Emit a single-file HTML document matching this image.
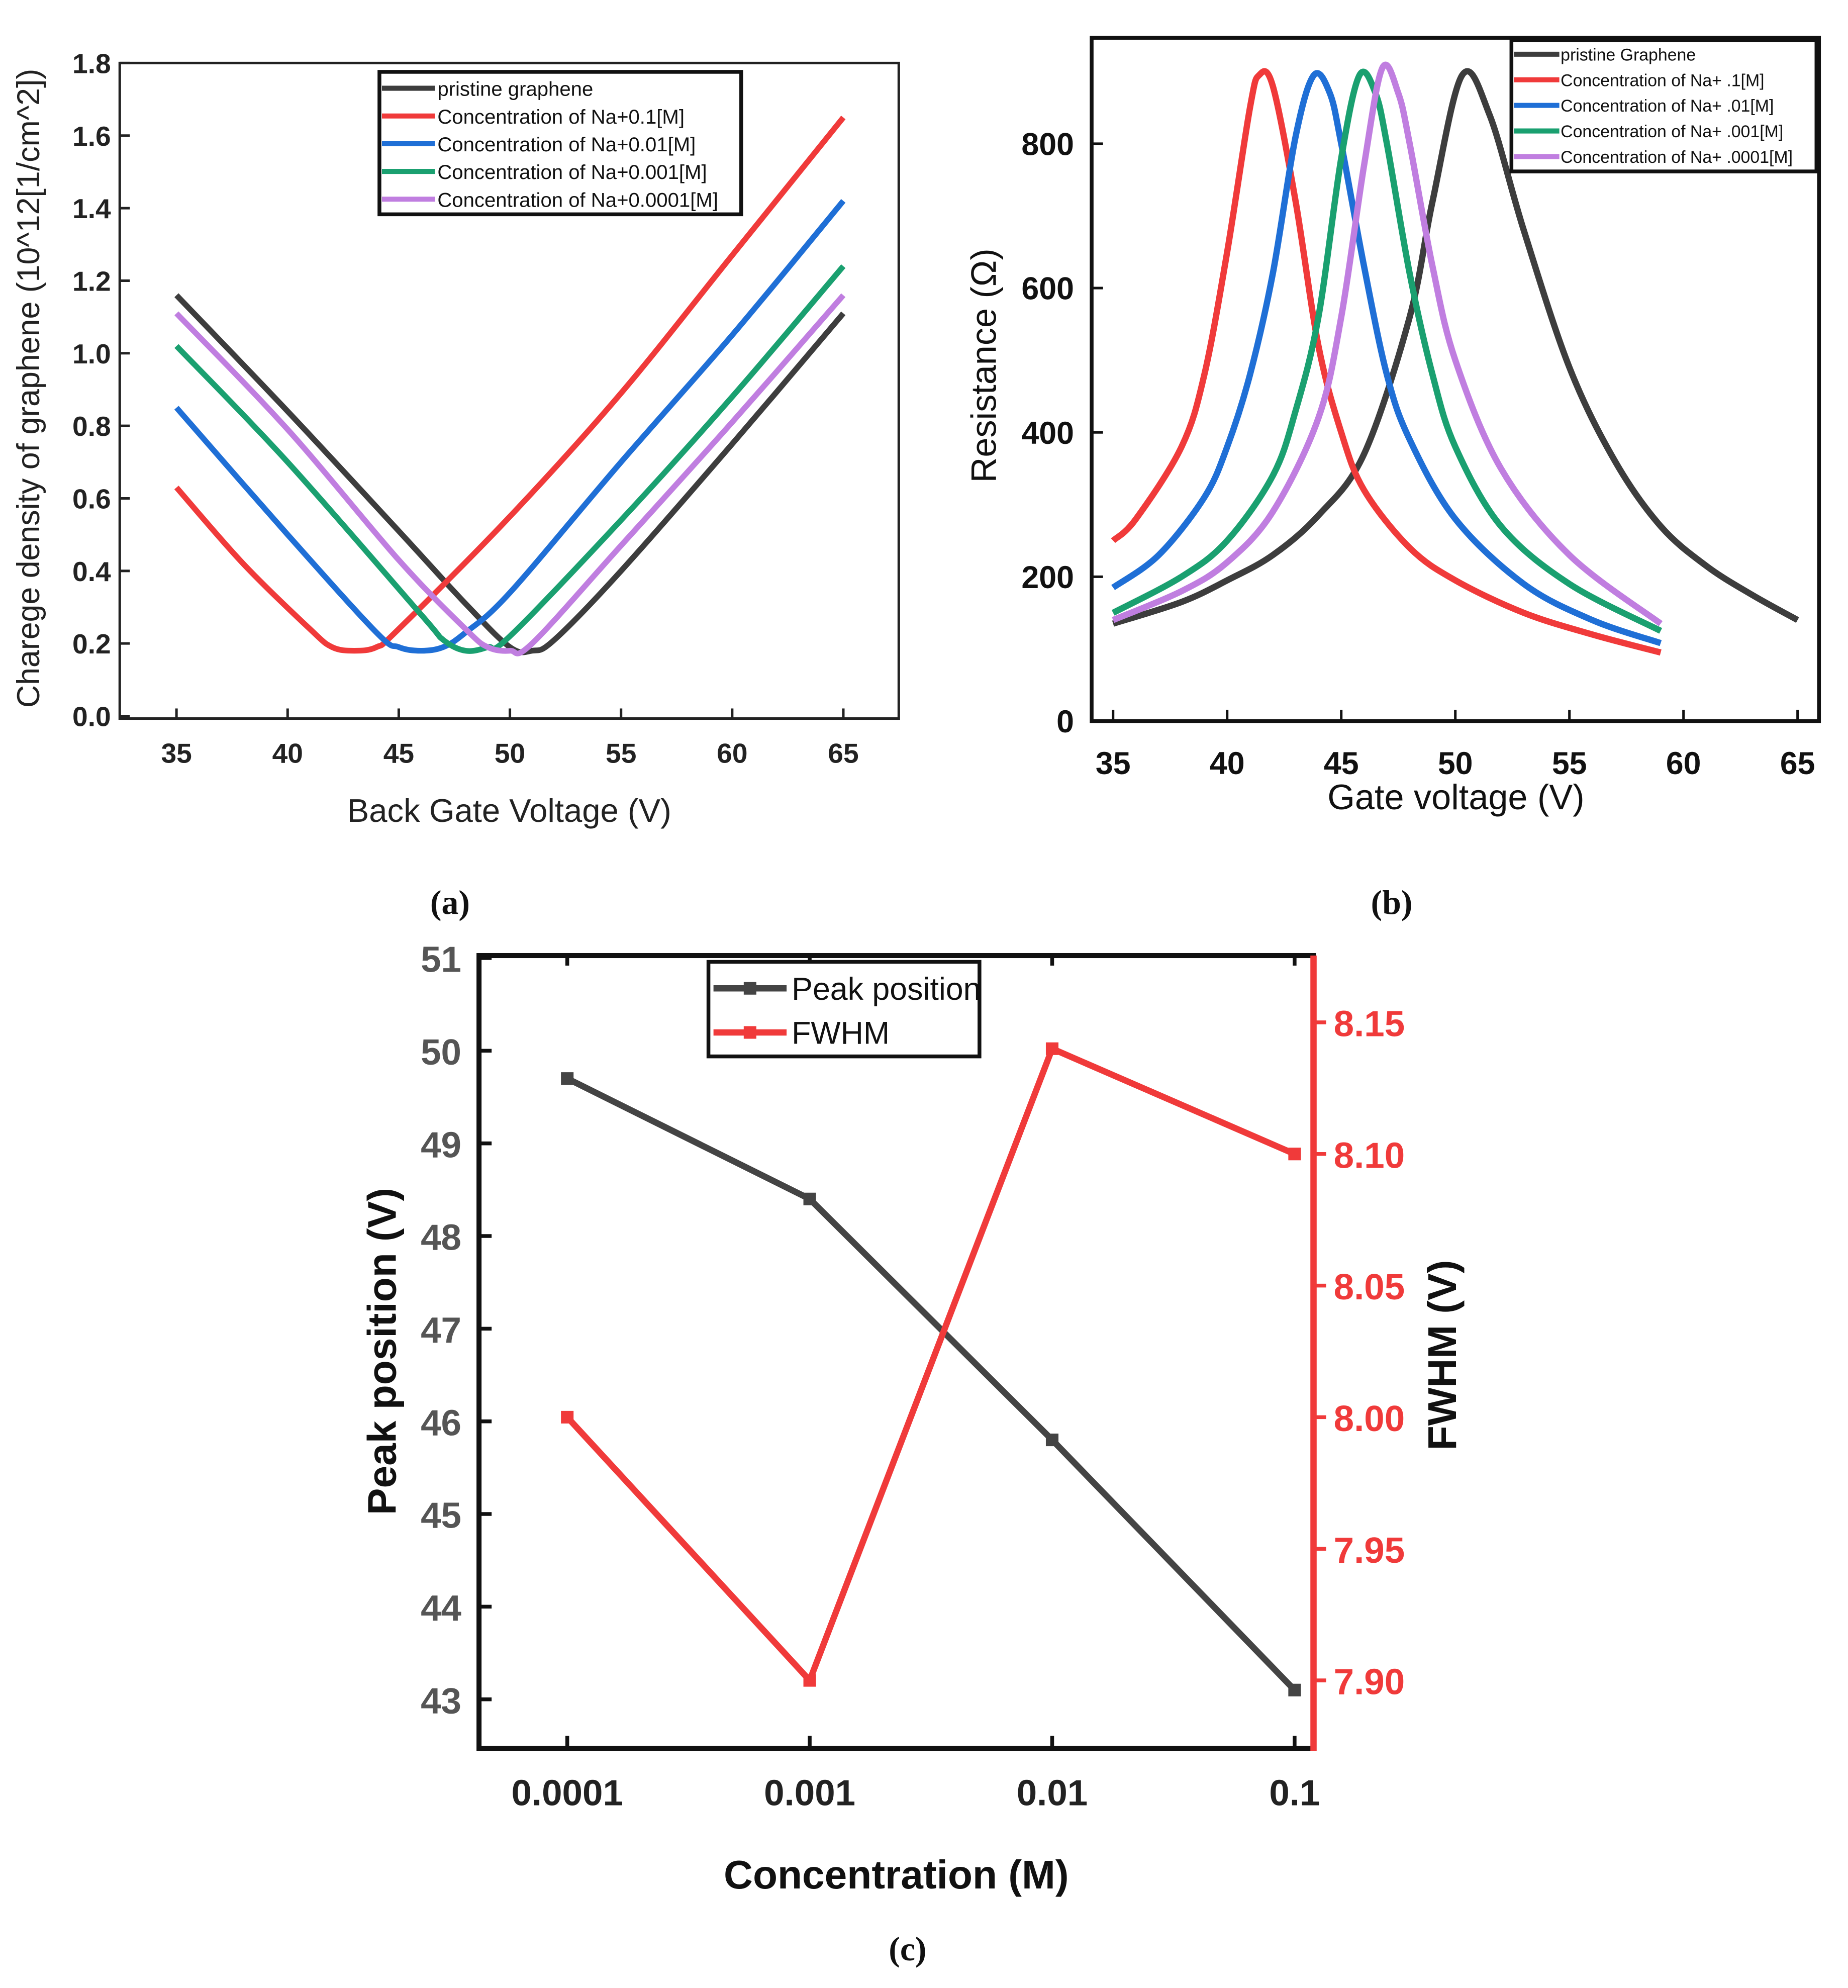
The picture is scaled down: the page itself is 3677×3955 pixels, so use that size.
<!DOCTYPE html>
<html><head><meta charset="utf-8"><style>
html,body{margin:0;padding:0;background:#fff;}
svg{display:block;font-family:"Liberation Sans",sans-serif;}
</style></head><body>
<svg id="fig" width="3677" height="3955" viewBox="0 0 1466 1577" preserveAspectRatio="none" xmlns="http://www.w3.org/2000/svg"></svg>
<script>
// ---- Panel (a) data ----
const aBlackX=[35,40,45,48,50,51,52,55,60,65];
const aBlackY=[1.16,0.84,0.51,0.31,0.19,0.18,0.21,0.40,0.75,1.11];
const aRedX=[35,38,41,42,43,44,45,50,55,60,65];
const aRedY=[0.63,0.42,0.24,0.19,0.18,0.19,0.24,0.55,0.89,1.27,1.65];
const aBlueX=[35,40,44,45,46,47,48,50,55,60,65];
const aBlueY=[0.85,0.50,0.23,0.19,0.18,0.19,0.23,0.34,0.70,1.05,1.42];
const aGreenX=[35,40,46,47,48,49,50,55,60,65];
const aGreenY=[1.02,0.70,0.28,0.21,0.18,0.19,0.22,0.54,0.88,1.24];
const aPurpleX=[35,40,45,48,49,50,51,55,60,65];
const aPurpleY=[1.11,0.79,0.43,0.24,0.19,0.18,0.20,0.47,0.81,1.16];
const aXTicks=[35,40,45,50,55,60,65];
const aYTicks=["0.0","0.2","0.4","0.6","0.8","1.0","1.2","1.4","1.6","1.8"];
const aLegend=["pristine graphene","Concentration of Na+0.1[M]","Concentration of Na+0.01[M]","Concentration of Na+0.001[M]","Concentration of Na+0.0001[M]"];
// ---- Panel (b) data ----
const bBlackX=[35,38,40,42,44,46,48,49,50.3,51.5,53,55,57,59,61,63,65];
const bBlackY=[135,165,195,230,285,370,560,720,895,840,680,490,360,270,215,175,140];
const bRedX=[35,36,38,39,40,41,41.4,42,43,44,45,46,48,50,53,56,59];
const bRedY=[250,280,380,480,650,850,895,880,720,520,400,320,240,195,150,120,95];
const bBlueX=[35,37,39,40,41,42,43,43.8,44.5,45,46,47,48,50,53,56,59];
const bBlueY=[185,230,310,380,480,620,810,895,870,800,630,480,390,280,190,140,108];
const bGreenX=[35,38,40,42,43,44,45,45.8,46.5,47,48,49,50,52,55,59];
const bGreenY=[150,200,250,340,430,560,780,895,870,800,620,480,380,270,190,125];
const bPurpleX=[35,38,40,42,44,45,46,46.8,47.5,48,49,50,52,55,59];
const bPurpleY=[140,180,220,290,420,560,770,905,870,800,630,500,350,230,135];
const bXTicks=[35,40,45,50,55,60,65];
const bYTicks=[0,200,400,600,800];
const bLegend=["pristine Graphene","Concentration of Na+ .1[M]","Concentration of Na+  .01[M]","Concentration of Na+  .001[M]","Concentration of Na+  .0001[M]"];
// ---- Panel (c) data ----
const cCategories=["0.0001","0.001","0.01","0.1"];
const cPeak=[49.7,48.4,45.8,43.1];
const cFwhm=[8.00,7.90,8.14,8.10];
const cLeftTicks=[43,44,45,46,47,48,49,50,51];
const cRightTicks=["7.90","7.95","8.00","8.05","8.10","8.15"];

const NS="http://www.w3.org/2000/svg";
const svg=document.getElementById('fig');
function el(tag,attrs,parent,text){const e=document.createElementNS(NS,tag);for(const k in attrs)e.setAttribute(k,attrs[k]);if(text!==undefined)e.textContent=text;(parent||svg).appendChild(e);return e;}
const colors=["#3d3d3d","#f03a3a","#1f6fd6","#1aa070","#c07ee0"];
function smoothPath(pts){let d="M"+pts[0][0]+","+pts[0][1];for(let i=0;i<pts.length-1;i++){const p0=pts[i-1]||pts[i],p1=pts[i],p2=pts[i+1],p3=pts[i+2]||p2;const c1x=p1[0]+(p2[0]-p0[0])/6,c1y=p1[1]+(p2[1]-p0[1])/6,c2x=p2[0]-(p3[0]-p1[0])/6,c2y=p2[1]-(p3[1]-p1[1])/6;d+=` C${c1x},${c1y} ${c2x},${c2y} ${p2[0]},${p2[1]}`;}return d;}

// ===== Panel (a) =====
const ga=el('g',{});
const ax=v=>140+(v-35)*(669-140)/30, ay=v=>568-v*(568-50)/1.8;
let r=el('rect',{x:95,y:50,width:618,height:520,fill:'none',stroke:'#222','stroke-width':2},ga);
aXTicks.forEach(t=>{el('line',{x1:ax(t),x2:ax(t),y1:570,y2:562,stroke:'#222','stroke-width':2},ga);
 const tx=el('text',{x:ax(t),y:605,'font-size':22,'font-weight':'bold','text-anchor':'middle',fill:'#222'},ga,t);});
aYTicks.forEach(t=>{const v=parseFloat(t);el('line',{x1:95,x2:103,y1:ay(v),y2:ay(v),stroke:'#222','stroke-width':2},ga);
 const tx=el('text',{x:88,y:ay(v)+8,'font-size':22,'font-weight':'bold','text-anchor':'end',fill:'#222'},ga,t);});
let t=el('text',{x:404,y:652,'font-size':26,'text-anchor':'middle',fill:'#222'},ga,'Back Gate Voltage (V)');
t=el('text',{x:0,y:0,'font-size':25,'text-anchor':'middle',fill:'#222',transform:'translate(31,308) rotate(-90)'},ga,'Charege density of graphene (10^12[1/cm^2])');
[[aBlackX,aBlackY],[aRedX,aRedY],[aBlueX,aBlueY],[aGreenX,aGreenY],[aPurpleX,aPurpleY]].forEach((s,i)=>{
 const p=el('path',{d:smoothPath(s[0].map((x,j)=>[ax(x),ay(s[1][j])])),fill:'none',stroke:colors[i],'stroke-width':4.5,'stroke-linejoin':'round'},ga);
 });
const la=el('g',{},ga);
el('rect',{x:301,y:57,width:287,height:113,fill:'#fff',stroke:'#111','stroke-width':3},la);
aLegend.forEach((s,i)=>{const y=70+i*22;el('line',{x1:303,x2:345,y1:y,y2:y,stroke:colors[i],'stroke-width':4},la);
 const tx=el('text',{x:347,y:y+6,'font-size':16,fill:'#111'},la,s);});
t=el('text',{x:357,y:725,'font-size':27,'font-weight':'bold','text-anchor':'middle','font-family':'Liberation Serif, serif',fill:'#111'},ga,'(a)');

// ===== Panel (b) =====
const gb=el('g',{});
const bx=v=>883+(v-35)*(1426-883)/30, by=v=>572-v*(572-114)/800;
r=el('rect',{x:866,y:30,width:577,height:542,fill:'none',stroke:'#111','stroke-width':3},gb);
bXTicks.forEach(v=>{el('line',{x1:bx(v),x2:bx(v),y1:572,y2:563,stroke:'#111','stroke-width':2},gb);
 const tx=el('text',{x:bx(v),y:614,'font-size':25,'font-weight':'bold','text-anchor':'middle',fill:'#111'},gb,v);});
bYTicks.forEach(v=>{el('line',{x1:866,x2:875,y1:by(v),y2:by(v),stroke:'#111','stroke-width':2},gb);
 const tx=el('text',{x:852,y:by(v)+9,'font-size':25,'font-weight':'bold','text-anchor':'end',fill:'#111'},gb,v);});
t=el('text',{x:1155,y:642,'font-size':28,'text-anchor':'middle',fill:'#111'},gb,'Gate voltage (V)');
t=el('text',{x:0,y:0,'font-size':28,'text-anchor':'middle',fill:'#111',transform:'translate(790,290) rotate(-90)'},gb,'Resistance (Ω)');
[[bBlackX,bBlackY],[bRedX,bRedY],[bBlueX,bBlueY],[bGreenX,bGreenY],[bPurpleX,bPurpleY]].forEach((s,i)=>{
 const p=el('path',{d:smoothPath(s[0].map((x,j)=>[bx(x),by(s[1][j])])),fill:'none',stroke:colors[i],'stroke-width':5,'stroke-linejoin':'round'},gb);
 });
const lb=el('g',{},gb);
el('rect',{x:1199,y:32,width:242,height:104,fill:'#fff',stroke:'#111','stroke-width':3},lb);
bLegend.forEach((s,i)=>{const y=43+i*20.3;el('line',{x1:1201,x2:1237,y1:y,y2:y,stroke:colors[i],'stroke-width':4},lb);
 const tx=el('text',{x:1238,y:y+5,'font-size':13.5,fill:'#111'},lb,s);});
t=el('text',{x:1104,y:725,'font-size':27,'font-weight':'bold','text-anchor':'middle','font-family':'Liberation Serif, serif',fill:'#111'},gb,'(b)');

// ===== Panel (c) =====
const gc=el('g',{});
const cx=i=>450+i*(1027-450)/(cCategories.length-1);
const cyL=v=>1348-(v-43)*(1348-760)/8, cyR=v=>1333-(v-7.90)*(1333-811)/0.25;
r=el('rect',{x:380,y:758,width:662,height:629,fill:'none',stroke:'#111','stroke-width':4},gc);
el('line',{x1:1042,x2:1042,y1:758,y2:1389,stroke:'#f03a3a','stroke-width':5},gc);
cCategories.forEach((c,i)=>{el('line',{x1:cx(i),x2:cx(i),y1:1387,y2:1377,stroke:'#111','stroke-width':3},gc);el('line',{x1:cx(i),x2:cx(i),y1:758,y2:766,stroke:'#111','stroke-width':3},gc);
 const tx=el('text',{x:cx(i),y:1432,'font-size':29,'font-weight':'bold','text-anchor':'middle',fill:'#222'},gc,c);});
cLeftTicks.forEach(v=>{el('line',{x1:380,x2:390,y1:cyL(v),y2:cyL(v),stroke:'#111','stroke-width':3},gc);
 const tx=el('text',{x:366,y:cyL(v)+11,'font-size':29,'font-weight':'bold','text-anchor':'end',fill:'#555'},gc,v);});
cRightTicks.forEach(s=>{const v=parseFloat(s);el('line',{x1:1042,x2:1052,y1:cyR(v),y2:cyR(v),stroke:'#f03a3a','stroke-width':3},gc);
 const tx=el('text',{x:1058,y:cyR(v)+11,'font-size':29,'font-weight':'bold',fill:'#f03a3a'},gc,s);});
t=el('text',{x:711,y:1498,'font-size':32,'font-weight':'bold','text-anchor':'middle',fill:'#111'},gc,'Concentration (M)');
t=el('text',{x:0,y:0,'font-size':32,'font-weight':'bold','text-anchor':'middle',fill:'#111',transform:'translate(314,1072) rotate(-90)'},gc,'Peak position (V)');
t=el('text',{x:0,y:0,'font-size':32,'font-weight':'bold','text-anchor':'middle',fill:'#111',transform:'translate(1155,1075) rotate(-90)'},gc,'FWHM (V)');
let pl=el('polyline',{points:cPeak.map((v,i)=>cx(i)+','+cyL(v)).join(' '),fill:'none',stroke:'#444','stroke-width':5},gc);
cPeak.forEach((v,i)=>{const m=el('rect',{x:cx(i)-5,y:cyL(v)-5,width:10,height:10,fill:'#444'},gc);});
pl=el('polyline',{points:cFwhm.map((v,i)=>cx(i)+','+cyR(v)).join(' '),fill:'none',stroke:'#f03a3a','stroke-width':5},gc);
cFwhm.forEach((v,i)=>{const m=el('rect',{x:cx(i)-5,y:cyR(v)-5,width:10,height:10,fill:'#f03a3a'},gc);});
const lc=el('g',{},gc);
el('rect',{x:562,y:763,width:215,height:75,fill:'#fff',stroke:'#111','stroke-width':3},lc);
[["Peak position","#444"],["FWHM","#f03a3a"]].forEach((s,i)=>{const y=784+i*35;el('line',{x1:566,x2:624,y1:y,y2:y,stroke:s[1],'stroke-width':5},lc);el('rect',{x:590,y:y-5,width:10,height:10,fill:s[1]},lc);
 const tx=el('text',{x:628,y:y+9,'font-size':25,fill:'#111'},lc,s[0]);});
t=el('text',{x:720,y:1555,'font-size':27,'font-weight':'bold','text-anchor':'middle','font-family':'Liberation Serif, serif',fill:'#111'},gc,'(c)');
</script>
</body></html>
